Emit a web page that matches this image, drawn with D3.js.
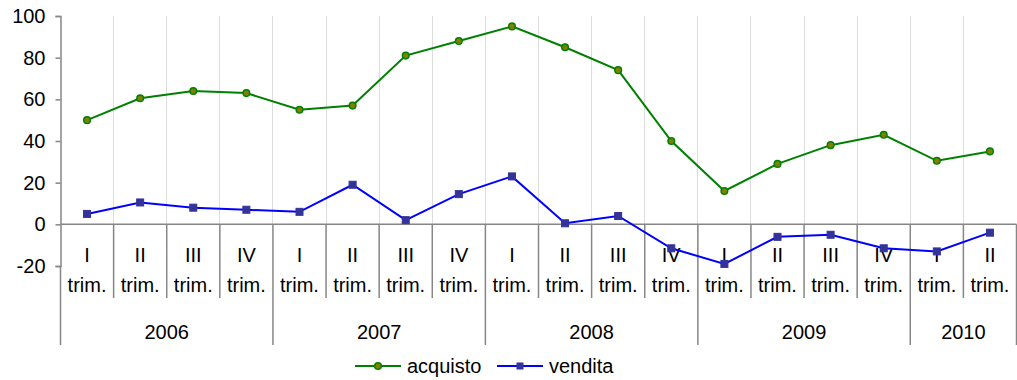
<!DOCTYPE html>
<html>
<head>
<meta charset="utf-8">
<script src="https://cdn.jsdelivr.net/npm/d3@7/dist/d3.min.js"></script>
<style>
  html, body { margin: 0; padding: 0; background: #fff; }
  svg { display: block; font-family: "Liberation Sans", Arial, sans-serif; }
</style>
</head>
<body>
<svg id="chart" width="1017" height="380"></svg>
<script>
// Quarterly balances, 2006 – II trim. 2010
const quarters = ["I", "II", "III", "IV", "I", "II", "III", "IV", "I", "II", "III", "IV",
                  "I", "II", "III", "IV", "I", "II"];
const years = ["2006", "2007", "2008", "2009", "2010"];
const quartersPerYear = [4, 4, 4, 4, 2];
const acquisto = [50, 60.5, 64, 63, 55, 57, 81, 88, 95, 85, 74, 40, 16, 29, 38, 43, 30.5, 35];
const vendita = [5, 10.5, 8, 7, 6, 19, 2, 14.5, 23, 0.5, 4, -11.5, -19, -6, -5, -11.5, -13, -4];
const yTicks = [-20, 0, 20, 40, 60, 80, 100];

const svg = d3.select("#chart");
const plotLeft = 60.5, plotRight = 1016.5, plotTop = 16, plotBottom = 266;
const axisColor = "#868686";
const fontSize = "20px";

const idx = quarters.map((_, i) => i);
const x = d3.scaleBand().domain(idx).range([plotLeft, plotRight]).padding(0);
const y = d3.scaleLinear().domain([-20, 100]).range([plotBottom, plotTop]);
const cx = i => x(i) + x.bandwidth() / 2;

// vertical gridlines at quarter boundaries (above the zero line)
svg.append("g").selectAll("line")
  .data(idx.slice(1))
  .join("line")
  .attr("x1", i => x(i)).attr("x2", i => x(i))
  .attr("y1", y(100)).attr("y2", y(0))
  .attr("stroke", "#dcdcdc").attr("stroke-width", 1)
  .attr("shape-rendering", "crispEdges");

// value axis
const yAxis = d3.axisLeft(y).tickValues(yTicks).tickSize(5).tickPadding(10).tickFormat(d => String(d));
const gy = svg.append("g").attr("transform", `translate(${plotLeft},0)`).call(yAxis);
gy.select(".domain").attr("stroke", axisColor).attr("stroke-width", 1.5);
gy.selectAll(".tick line").attr("stroke", axisColor).attr("stroke-width", 1.5);
gy.selectAll(".tick text").attr("font-size", fontSize).attr("fill", "#000")
  .attr("font-family", "Liberation Sans, Arial, sans-serif");

// left axis line continues down through the category label area
svg.append("line")
  .attr("x1", plotLeft).attr("x2", plotLeft).attr("y1", plotBottom).attr("y2", 345)
  .attr("stroke", axisColor).attr("stroke-width", 1.5);

// category axis at zero
svg.append("line")
  .attr("x1", plotLeft).attr("x2", plotRight).attr("y1", y(0)).attr("y2", y(0))
  .attr("stroke", axisColor).attr("stroke-width", 1.5);

// year boundaries (long dividers)
const yearStarts = [];
let acc = 0;
quartersPerYear.forEach(n => { yearStarts.push(acc); acc += n; });
const yearBoundaryIdx = new Set(yearStarts.concat([quarters.length]));

// quarter dividers below the axis
svg.append("g").selectAll("line")
  .data(d3.range(1, quarters.length + 1))
  .join("line")
  .attr("x1", i => i < quarters.length ? x(i) : plotRight)
  .attr("x2", i => i < quarters.length ? x(i) : plotRight)
  .attr("y1", y(0))
  .attr("y2", i => yearBoundaryIdx.has(i) ? 345 : 298)
  .attr("stroke", axisColor).attr("stroke-width", 1.5);

// quarter labels
const ql = svg.append("g").attr("font-size", fontSize).attr("text-anchor", "middle").attr("fill", "#000");
ql.selectAll("text.q").data(idx).join("text").attr("class", "q")
  .attr("x", cx).attr("y", 262).text(i => quarters[i]);
ql.selectAll("text.t").data(idx).join("text").attr("class", "t")
  .attr("x", cx).attr("y", 292).text("trim.");

// year labels
svg.append("g").attr("font-size", fontSize).attr("text-anchor", "middle")
  .selectAll("text").data(years).join("text")
  .attr("x", (d, k) => {
    const a = x(yearStarts[k]);
    const b = x(yearStarts[k] + quartersPerYear[k] - 1) + x.bandwidth();
    return (a + b) / 2;
  })
  .attr("y", 339).text(d => d);

// series
const line = d3.line().x((d, i) => cx(i)).y(d => y(d));

svg.append("path").datum(acquisto)
  .attr("d", line).attr("fill", "none").attr("stroke", "#008000").attr("stroke-width", 2);
svg.append("path").datum(vendita)
  .attr("d", line).attr("fill", "none").attr("stroke", "#0000ff").attr("stroke-width", 2);

svg.append("g").selectAll("circle").data(acquisto).join("circle")
  .attr("cx", (d, i) => cx(i)).attr("cy", d => y(d)).attr("r", 3.3)
  .attr("fill", "#808000").attr("stroke", "#008000").attr("stroke-width", 1.5);

svg.append("g").selectAll("rect").data(vendita).join("rect")
  .attr("x", (d, i) => cx(i) - 3.5).attr("y", d => y(d) - 3.5)
  .attr("width", 7).attr("height", 7)
  .attr("fill", "#333399").attr("stroke", "#333399").attr("stroke-width", 1);

// legend
const legend = svg.append("g").attr("font-size", fontSize);
const lg1 = legend.append("g").attr("transform", "translate(355,366)");
lg1.append("line").attr("x1", 0).attr("x2", 46).attr("stroke", "#008000").attr("stroke-width", 2);
lg1.append("circle").attr("cx", 23).attr("r", 3.3).attr("fill", "#808000").attr("stroke", "#008000").attr("stroke-width", 1.5);
lg1.append("text").attr("x", 52).attr("y", 7).text("acquisto");

const lg2 = legend.append("g").attr("transform", "translate(497,366)");
lg2.append("line").attr("x1", 0).attr("x2", 46).attr("stroke", "#0000ff").attr("stroke-width", 2);
lg2.append("rect").attr("x", 19.5).attr("y", -3.5).attr("width", 7).attr("height", 7).attr("fill", "#333399");
lg2.append("text").attr("x", 52).attr("y", 7).text("vendita");
</script>
</body>
</html>
